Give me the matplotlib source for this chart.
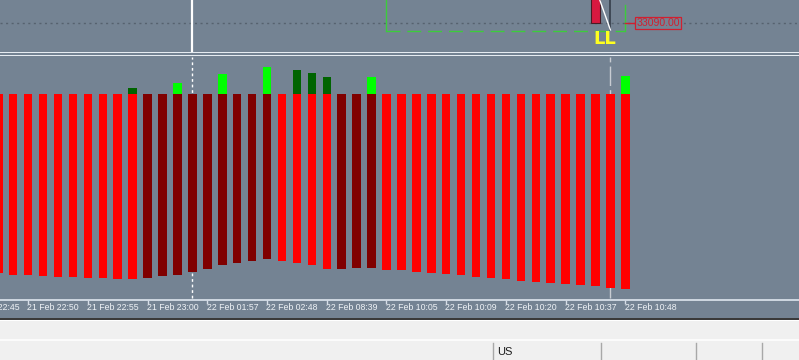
import matplotlib
matplotlib.use("Agg")
import matplotlib.pyplot as plt
from matplotlib.patches import Rectangle

# ---------------- data ----------------
# lower (negative) histogram, one value per bar
neg_values = [-179.0, -180.7, -180.7, -181.7, -183.0, -183.0, -184.0, -184.0, -185.0, -184.7,
              -184.0, -181.7, -180.7, -177.4, -174.7, -170.7, -169.0, -167.0, -165.0, -167.0,
              -168.4, -170.7, -174.7, -174.7, -174.0, -173.4, -175.5, -176.0, -177.4, -179.0,
              -180.0, -180.7, -182.4, -183.4, -184.7, -186.4, -187.4, -188.4, -189.4, -191.0,
              -192.0, -193.4, -195.0]
# 'R' = bright red, 'D' = dark red
neg_shade = list("RRRRRRRRRRDDDDDDDDDRRRRDDDRRRRRRRRRRRRRRRRR")
# upper (positive) histogram
pos_values = [0, 0, 0, 0, 0, 0, 0, 0, 0, 6.7,
              0, 0, 11.7, 0, 0, 20.6, 0, 0, 27.0, 0,
              24.3, 21.7, 17.7, 0, 0, 17.7, 0, 0, 0, 0,
              0, 0, 0, 0, 0, 0, 0, 0, 0, 0,
              0, 0, 18.3]
# 'L' = lime, 'G' = dark green, '-' = none
pos_shade = list("---------G--L--L--L-GGG--L----------------L")

tick_index = [-2, 2, 6, 10, 14, 18, 22, 26, 30, 34, 38, 42]
tick_labels = ["21 Feb 22:45", "21 Feb 22:50", "21 Feb 22:55", "21 Feb 23:00",
               "22 Feb 01:57", "22 Feb 02:48", "22 Feb 08:39", "22 Feb 10:05",
               "22 Feb 10:09", "22 Feb 10:20", "22 Feb 10:37", "22 Feb 10:48"]

price_level = 33090.00
price_label = "33090.00"
candle_index = 40
candle_open = 33140.0
candle_close = 33090.5
zigzag_x = [40, 41]
zigzag_y = [33125.0, 33083.0]
box_left, box_right, box_bottom, box_right_top = 26, 42, 33082.0, 33108.0
crosshair_index = 13
cursor_index = 41
pattern_text = "LL"
panel_text = "US"

# ---------------- style ----------------
BG = "#748393"
LIGHT = "#d6dee8"
col_neg = {"R": "#ff0000", "D": "#800000"}
col_pos = {"L": "#00ff00", "G": "#006400", "-": "none"}

W, H = 799, 360
fig = plt.figure(figsize=(W / 100, H / 100), dpi=100)
fig.patch.set_facecolor("#f0f0f0")

# chrome / background in pixel coordinates
bg = fig.add_axes([0, 0, 1, 1])
bg.set_xlim(0, W)
bg.set_ylim(H, 0)
bg.axis("off")
bg.add_patch(Rectangle((0, 0), W, 318, fc=BG, ec="none"))
bg.add_patch(Rectangle((0, 318), W, 2.2, fc="#3a3a3a", ec="none"))
bg.add_patch(Rectangle((0, 320.2), W, 1, fc="#ffffff", ec="none"))
bg.add_patch(Rectangle((0, 339.3), W, 1.2, fc="#fbfbfb", ec="none"))
bg.add_patch(Rectangle((0, 51.6), W, 1.5, fc="#e6ecf2", ec="none"))
bg.add_patch(Rectangle((0, 54.6), W, 1.5, fc="#e6ecf2", ec="none"))
for xs in [492.7, 601, 696, 762]:
    bg.plot([xs, xs], [343, 360], color="#a8a8a8", lw=1)
bg.text(497, 352, panel_text, fontsize=8, family="Liberation Sans",
        color="#1a1a1a", va="center", ha="left")

x_left = (0 + 1.7) / 14.93
x_right = (W + 1.7) / 14.93

# ---------------- top (price) pane ----------------
top = fig.add_axes([0, 1 - 51.5 / H, 1, 51.5 / H])
top.set_facecolor("none")
top.set_xlim(x_left, x_right)
top.set_ylim(33061.5, 33113)
top.axis("off")
top.axhline(price_level, color="#56626f", lw=1, ls=(0, (1.5, 2.5)), zorder=1)
top.axvline(crosshair_index, color="white", lw=1.6, zorder=3)
# rectangle (dashed green)
gcol = "#3ccc3c"
top.plot([box_left, box_left], [box_bottom, 33120], color=gcol, lw=1, zorder=2)
top.plot([box_left, box_right], [box_bottom, box_bottom], color=gcol, lw=1,
         ls=(0, (10, 5)), zorder=2)
top.plot([box_right, box_right], [box_bottom, box_right_top], color=gcol, lw=1, zorder=2)
# candle
top.bar([candle_index], [candle_open - candle_close], bottom=[candle_close], width=0.62,
        color="#d81840", edgecolor="#4a1a24", lw=0.8, zorder=4)
top.plot([cursor_index, cursor_index], [zigzag_y[1], 33120], color="#3a4350", lw=1.3, zorder=4)
top.plot(zigzag_x, zigzag_y, color="white", lw=1, zorder=5)
top.text(40.6, 33074.5, pattern_text, color="#ffff20", fontsize=13, fontweight="bold",
         ha="center", va="center", zorder=6, family="DejaVu Sans")
# price label
top.plot([42, 42.65], [price_level, price_level], color="#d02030", lw=1, zorder=5)
top.text(42.72, price_level, price_label, color="#d02030", fontsize=7.6,
         family="Liberation Sans", ha="left", va="center", zorder=6,
         bbox=dict(boxstyle="square,pad=0.12", fc=BG, ec="#d02030", lw=0.9))

# ---------------- indicator pane ----------------
ind = fig.add_axes([0, 60 / H, 1, 243 / H])
ind.set_facecolor("none")
ind.set_xlim(x_left, x_right)
ind.set_ylim(94.3 - 300, 94.3 - 57)
x = list(range(len(neg_values)))
ind.axvline(crosshair_index, ymin=0.01, color="white", lw=1, ls=(0, (2, 2)), zorder=1)
ind.axvline(cursor_index, ymin=0.01, color="#c8ccd2", lw=1, ls=(0, (14, 3)), zorder=1)
ind.bar(x, neg_values, width=0.57, color=[col_neg[s] for s in neg_shade], lw=0, zorder=2)
ind.bar(x, pos_values, width=0.57, color=[col_pos[s] for s in pos_shade], lw=0, zorder=2)

for s in ["top", "left", "right"]:
    ind.spines[s].set_visible(False)
ind.spines["bottom"].set_color(LIGHT)
ind.spines["bottom"].set_linewidth(1.3)
ind.set_yticks([])
ind.set_xticks([t for t in tick_index if t >= 0])
ind.tick_params(axis="x", length=3, width=1, color=LIGHT, labelbottom=False, direction="out")
for t, lab in zip(tick_index, tick_labels):
    ind.text(t - 0.05, -8 / 243, lab, transform=ind.get_xaxis_transform(),
             fontsize=6.3, family="Liberation Sans", color="#eef2f6",
             ha="left", va="center", clip_on=False)

fig.savefig("out.png", dpi=100, facecolor=fig.get_facecolor())
